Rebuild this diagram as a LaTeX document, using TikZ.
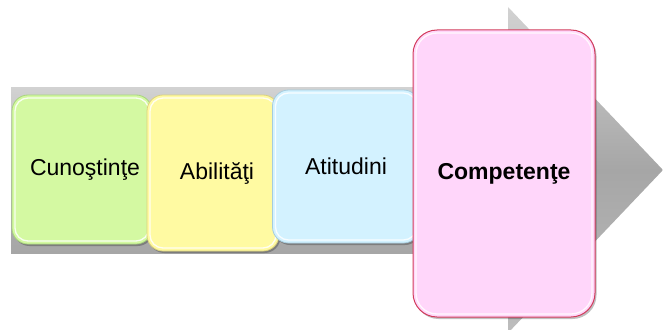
\documentclass[tikz,border=0pt]{standalone}
\usepackage{fontspec}
\setmainfont{Liberation Sans}
\usetikzlibrary{shadows}

\definecolor{arrowlight}{HTML}{D2D2D2}
\definecolor{arrowmid}{HTML}{B4B4B4}
\definecolor{arrowdark}{HTML}{A6A6A6}
\definecolor{knowfill}{HTML}{D4F9A2}
\definecolor{knowedge}{HTML}{A9D57E}
\definecolor{skillfill}{HTML}{FFFAA2}
\definecolor{skilledge}{HTML}{DCD27C}
\definecolor{attfill}{HTML}{D3F2FF}
\definecolor{attedge}{HTML}{A6CCDE}
\definecolor{compfill}{HTML}{FFD6FA}
\definecolor{compedge}{HTML}{D23C5C}

\tikzset{
  card/.style={
    rounded corners=#1, inner sep=0pt, text=black,
    font=\fontsize{23}{27}\selectfont, line width=0.8pt,
    drop shadow={shadow xshift=1.5pt, shadow yshift=-2pt, opacity=0.25, fill=black},
    path picture={
      \draw[white, line width=1.3pt, opacity=0.85, rounded corners=#1-3pt]
        ([xshift=3pt,yshift=-3pt]path picture bounding box.north west) rectangle
        ([xshift=-3pt,yshift=3pt]path picture bounding box.south east);
    }
  },
}

\begin{document}
\begin{tikzpicture}[x=1pt,y=-1pt]
\useasboundingbox (0,0) rectangle (663,329);

% the grey process arrow behind the cards
\begin{scope}
  \clip (0,0) rectangle (663,329);
  \shade[top color=arrowlight, bottom color=arrowdark, middle color=arrowmid]
    (11,87) rectangle (509,253);
  \shade[top color=arrowlight, bottom color=arrowlight!90!black, middle color=arrowdark]
    (508,7) -- (663,170) -- (508,333) -- cycle;
\end{scope}

% the cards, each one laid over the previous
\node[card=16pt, fill=knowfill, draw=knowedge, minimum width=140pt, minimum height=149pt]
  (know) at (82,169.5) {\hspace{6pt}Cunoştinţe};
\node[card=16pt, fill=skillfill, draw=skilledge, minimum width=132pt, minimum height=156pt]
  (skill) at (213,173) {\hspace{8pt}Abilităţi};
\node[card=16pt, fill=attfill, draw=attedge, minimum width=147pt, minimum height=153pt]
  (att) at (346,166.5) {Atitudini};
\node[card=24pt, fill=compfill, draw=compedge, line width=1pt, minimum width=182pt, minimum height=287pt]
  (comp) at (504,173.5) {\textbf{Competenţe}};
\end{tikzpicture}
\end{document}
